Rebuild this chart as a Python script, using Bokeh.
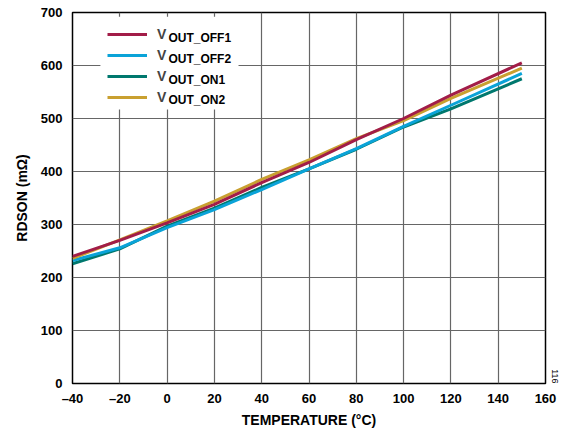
from bokeh.plotting import figure
from bokeh.models import Legend, LegendItem, Label, FixedTicker, Range1d, BoxAnnotation, Title
from bokeh.embed import file_html
from bokeh.resources import INLINE

# ---- data ----
temperature = [-40, -20, 0, 20, 40, 60, 80, 100, 120, 150]
vout_off1 = [240, 270, 303, 338, 379, 417, 460, 500, 544, 605]
vout_off2 = [232, 256, 294, 328, 366, 405, 443, 485, 525, 585]
vout_on1 = [226, 254, 297, 331, 370, 405, 442, 484, 518, 575]
vout_on2 = [236, 271, 307, 344, 385, 422, 462, 496, 538, 595]

x_ticks = [-40, -20, 0, 20, 40, 60, 80, 100, 120, 140, 160]
x_tick_labels = ["–40", "–20", "0", "20", "40", "60", "80", "100", "120", "140", "160"]
y_ticks = [0, 100, 200, 300, 400, 500, 600, 700]

series_sub = ["OUT_OFF1", "OUT_OFF2", "OUT_ON1", "OUT_ON2"]
series_data = [vout_off1, vout_off2, vout_on1, vout_on2]
colors = ["#a21d48", "#0aa3d8", "#00786e", "#c9a030"]
draw_order = [2, 1, 3, 0]

FONT = "Liberation Sans"

p = figure(width=571, height=430, output_backend="svg", toolbar_location=None,
           x_range=Range1d(-40, 160), y_range=Range1d(0, 700),
           min_border_left=72, min_border_right=26, min_border_top=12, min_border_bottom=43)

p.outline_line_color = "black"
p.outline_line_width = 1.5
p.background_fill_color = "white"

p.xgrid.ticker = FixedTicker(ticks=x_ticks)
p.ygrid.ticker = FixedTicker(ticks=y_ticks)
for g in (p.xgrid, p.ygrid):
    g.grid_line_color = "#666666"
    g.grid_line_width = 1.2

p.xaxis.ticker = FixedTicker(ticks=x_ticks)
p.xaxis.major_label_overrides = {t: l for t, l in zip(x_ticks, x_tick_labels)}
p.yaxis.ticker = FixedTicker(ticks=y_ticks)

for ax in (p.xaxis, p.yaxis):
    ax.axis_line_color = None
    ax.major_tick_line_color = None
    ax.minor_tick_line_color = None
    ax.major_tick_out = 0
    ax.major_tick_in = 0
    ax.minor_tick_out = 0
    ax.major_label_text_font = FONT
    ax.major_label_text_font_style = "bold"
    ax.major_label_text_font_size = "13px"
    ax.major_label_text_color = "black"
    ax.axis_label_text_font = FONT
    ax.axis_label_text_font_style = "bold"
    ax.axis_label_text_font_size = "14px"
    ax.axis_label_text_color = "black"

p.xaxis.axis_label = "TEMPERATURE (°C)"
p.yaxis.axis_label = "RDSON (mΩ)"
p.xaxis.major_label_standoff = 7
p.xaxis.axis_label_standoff = 3
p.yaxis.major_label_standoff = 10
p.yaxis.axis_label_standoff = 8

# white legend background (behind the legend, above the grid)
p.add_layout(BoxAnnotation(left=-28.2, right=30.2, bottom=517, top=692,
                           fill_color="white", fill_alpha=1.0, line_color=None,
                           level="underlay"))

renderers = [None] * 4
for i in draw_order:
    renderers[i] = p.line(temperature, series_data[i], line_color=colors[i], line_width=3)

legend = Legend(items=[LegendItem(label="V", renderers=[renderers[i]]) for i in range(4)],
                location=(35, 278), orientation="vertical",
                glyph_width=40, glyph_height=16, spacing=5, padding=8, margin=0,
                label_standoff=10, label_width=72, label_height=16,
                label_text_font=FONT, label_text_font_style="bold", label_text_font_size="14px",
                background_fill_alpha=0.0, border_line_color=None)
p.add_layout(legend)

for i, s in enumerate(series_sub):
    p.add_layout(Label(x=0.55, y=651 - 38.8 * i, text=s, text_font=FONT, text_font_style="bold",
                       text_font_size="12px", text_baseline="middle", text_align="left",
                       text_color="black"))

p.add_layout(Title(text="116", align="right", text_font=FONT, text_font_size="9px",
                   text_font_style="normal", text_color="black", standoff=12), "right")

open("out.html", "w").write(file_html(p, INLINE))
